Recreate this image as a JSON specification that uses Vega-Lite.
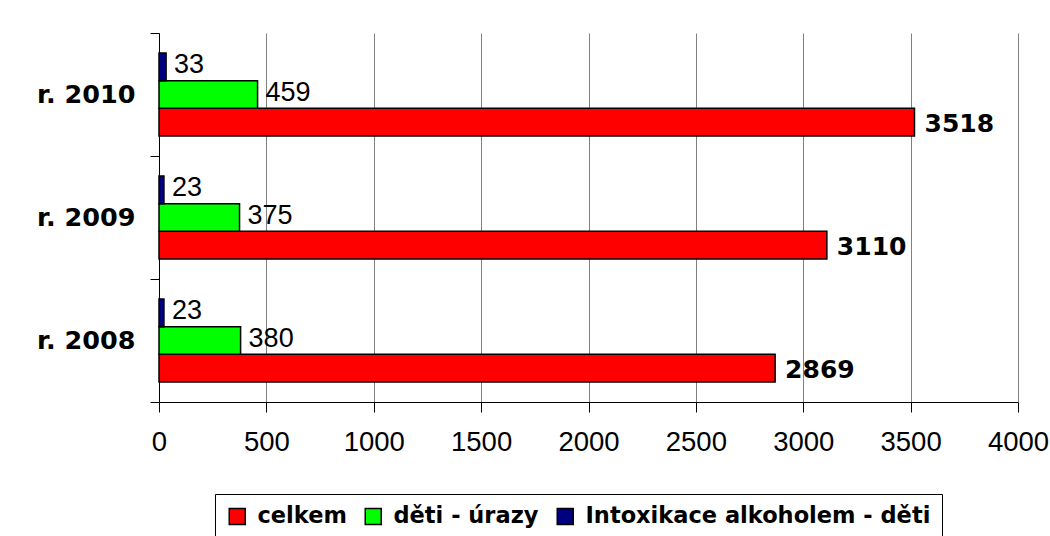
{
  "$schema": "https://vega.github.io/schema/vega-lite/v6.json",
  "width": 859,
  "height": 369,
  "autosize": "none",
  "padding": {"left": 159, "top": 33, "right": 32, "bottom": 134},
  "background": "white",
  "config": {
    "view": {"stroke": null},
    "axis": {"labelColor": "black", "domainColor": "black", "tickColor": "black"}
  },
  "data": {
    "values": [
      {"rok": "r. 2010", "serie": "celkem", "hodnota": 3518},
      {"rok": "r. 2010", "serie": "děti - úrazy", "hodnota": 459},
      {"rok": "r. 2010", "serie": "Intoxikace alkoholem - děti", "hodnota": 33},
      {"rok": "r. 2009", "serie": "celkem", "hodnota": 3110},
      {"rok": "r. 2009", "serie": "děti - úrazy", "hodnota": 375},
      {"rok": "r. 2009", "serie": "Intoxikace alkoholem - děti", "hodnota": 23},
      {"rok": "r. 2008", "serie": "celkem", "hodnota": 2869},
      {"rok": "r. 2008", "serie": "děti - úrazy", "hodnota": 380},
      {"rok": "r. 2008", "serie": "Intoxikace alkoholem - děti", "hodnota": 23}
    ]
  },
  "encoding": {
    "y": {
      "field": "rok", "type": "nominal",
      "sort": ["r. 2010", "r. 2009", "r. 2008"],
      "scale": {"paddingInner": 0, "paddingOuter": 0},
      "axis": {
        "title": null, "tickBand": "extent", "tickSize": 9, "labelPadding": 15,
        "labelFont": "DejaVu Sans", "labelFontWeight": "bold", "labelFontSize": 25.5,
        "domainWidth": 1, "tickWidth": 1, "grid": false, "labelLimit": 0
      }
    },
    "yOffset": {
      "field": "serie", "type": "nominal",
      "sort": ["Intoxikace alkoholem - děti", "děti - úrazy", "celkem"],
      "scale": {"paddingInner": 0, "paddingOuter": 0.72}
    },
    "x": {
      "field": "hodnota", "type": "quantitative",
      "scale": {"domain": [0, 4000], "nice": false},
      "axis": {
        "title": null, "values": [0, 500, 1000, 1500, 2000, 2500, 3000, 3500, 4000],
        "grid": true, "gridColor": "#808080", "gridWidth": 1,
        "tickSize": 10, "labelPadding": 16, "labelFont": "Liberation Sans",
        "labelFontSize": 27.5, "labelFontWeight": "normal", "format": "d",
        "labelFlush": false, "labelOverlap": false
      }
    }
  },
  "layer": [
    {
      "mark": {"type": "bar", "stroke": "black", "strokeWidth": 1.5},
      "encoding": {
        "color": {
          "field": "serie", "type": "nominal",
          "scale": {
            "domain": ["celkem", "děti - úrazy", "Intoxikace alkoholem - děti"],
            "range": ["#ff0000", "#00ff00", "#000080"]
          },
          "legend": {
            "title": null, "orient": "none", "legendX": 56, "legendY": 461,
            "direction": "horizontal", "columns": 3, "columnPadding": 15,
            "fillColor": "white", "strokeColor": "black", "padding": 11,
            "labelFont": "DejaVu Sans", "labelFontWeight": "bold", "labelFontSize": 22.5,
            "labelColor": "black", "labelOffset": 9, "labelLimit": 0,
            "symbolType": "square", "symbolSize": 256,
            "symbolStrokeColor": "black", "symbolStrokeWidth": 1.5
          }
        }
      }
    },
    {
      "transform": [{"filter": "datum.serie !== 'celkem'"}],
      "mark": {"type": "text", "align": "left", "baseline": "middle", "dx": 8, "dy": -2,
               "font": "Liberation Sans", "fontSize": 27, "color": "black"},
      "encoding": {"text": {"field": "hodnota", "type": "quantitative"}}
    },
    {
      "transform": [{"filter": "datum.serie === 'celkem'"}],
      "mark": {"type": "text", "align": "left", "baseline": "middle", "dx": 10, "dy": 2,
               "font": "DejaVu Sans", "fontWeight": "bold", "fontSize": 25, "color": "black"},
      "encoding": {"text": {"field": "hodnota", "type": "quantitative"}}
    }
  ]
}
